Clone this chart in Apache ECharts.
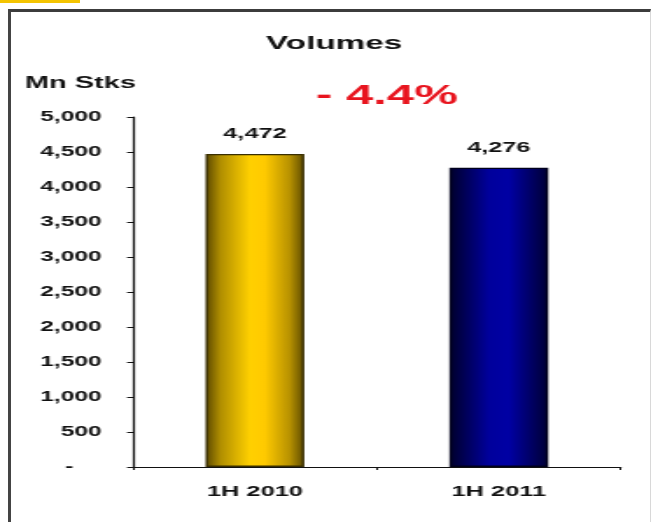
<!DOCTYPE html>
<html>
<head>
<meta charset="utf-8">
<script src="https://cdn.jsdelivr.net/npm/echarts@6/dist/echarts.min.js"></script>
<style>
  html, body { margin: 0; padding: 0; background: #fff; width: 653px; height: 522px; overflow: hidden; }
  #tab { position: absolute; left: 0; top: 0; width: 80px; height: 3px; background: #f4c400; }
  #frame { position: absolute; left: 8px; top: 9px; width: 639px; height: 530px;
           border-left: 3px solid #444; border-top: 3px solid #3c3c3c; border-right: 1px solid #d8d8d8; }
  /* the drawing is laid out narrow and widened, giving the broad lettering */
  #chart { position: absolute; left: 0; top: 0; width: 373.14px; height: 522px;
           transform: scaleX(1.75); transform-origin: 0 0; }
</style>
</head>
<body>
<div id="tab"></div>
<div id="frame"></div>
<div id="chart"></div>
<script>
// Half-year trading volumes, million stocks
const categories = ['1H 2010', '1H 2011'];
const volumes = [4472, 4276];
const yTicks = { min: 0, max: 5000, interval: 500 };
const changeLabel = '- 4.4%';

const FONT = "'Liberation Sans', Arial, sans-serif";

const barColors = [
  new echarts.graphic.LinearGradient(0, 0, 1, 0, [
    { offset: 0, color: '#5a4700' },
    { offset: 0.15, color: '#b08e00' },
    { offset: 0.45, color: '#ffd000' },
    { offset: 0.6, color: '#ffca00' },
    { offset: 0.85, color: '#b89200' },
    { offset: 1, color: '#5e4b00' }
  ]),
  new echarts.graphic.LinearGradient(0, 0, 1, 0, [
    { offset: 0, color: '#00002a' },
    { offset: 0.4, color: '#00009c' },
    { offset: 0.6, color: '#0000a4' },
    { offset: 1, color: '#000034' }
  ])
];
const barBorders = ['#3a2f00', '#00001c'];

const chart = echarts.init(document.getElementById('chart'), null, { renderer: 'canvas' });

chart.setOption({
  animation: false,
  backgroundColor: 'transparent',
  title: [
    { text: 'Volumes', left: 191, top: 34.5, textAlign: 'center', padding: 0,
      textStyle: { fontFamily: FONT, fontWeight: 'bold', fontSize: 19, color: '#111' } },
    { text: 'Mn Stks', left: 14.3, top: 75, padding: 0,
      textStyle: { fontFamily: FONT, fontWeight: 'bold', fontSize: 16.5, color: '#111' } },
    { text: changeLabel, left: 180.6, top: 82, padding: 0,
      textStyle: { fontFamily: FONT, fontWeight: 'bold', fontSize: 28, color: '#e8141e' } }
  ],
  grid: { left: 76, right: 18.3, top: 117, bottom: 55, containLabel: false },
  xAxis: {
    type: 'category',
    data: categories,
    axisLine: { show: true, lineStyle: { color: '#111', width: 1.2 } },
    axisTick: { show: true, length: 3, lineStyle: { color: '#111' } },
    axisLabel: { margin: 17, fontFamily: FONT, fontWeight: 'bold', fontSize: 14.5, color: '#111' }
  },
  yAxis: {
    type: 'value',
    min: yTicks.min, max: yTicks.max, interval: yTicks.interval,
    axisLine: { show: true, lineStyle: { color: '#111', width: 1.2 } },
    axisTick: { show: true, length: 3.4, lineStyle: { color: '#111' } },
    splitLine: { show: false },
    axisLabel: {
      margin: 18,
      fontFamily: FONT, fontWeight: 'bold', fontSize: 14, color: '#111',
      formatter: v => v === 0 ? '{z|-}' : v.toLocaleString('en-US'),
      rich: { z: { fontFamily: FONT, fontWeight: 'bold', fontSize: 14, color: '#111', padding: [0, 16, 0, 0] } }
    }
  },
  series: [{
    type: 'bar',
    barWidth: '40.5%',
    data: volumes.map((v, i) => ({
      value: v,
      itemStyle: { color: barColors[i], borderColor: barBorders[i], borderWidth: 1.4 }
    })),
    label: {
      show: true, position: 'top', distance: 12,
      fontFamily: FONT, fontWeight: 'bold', fontSize: 14.5, color: '#111',
      formatter: p => p.value.toLocaleString('en-US')
    }
  }]
});
</script>
</body>
</html>
